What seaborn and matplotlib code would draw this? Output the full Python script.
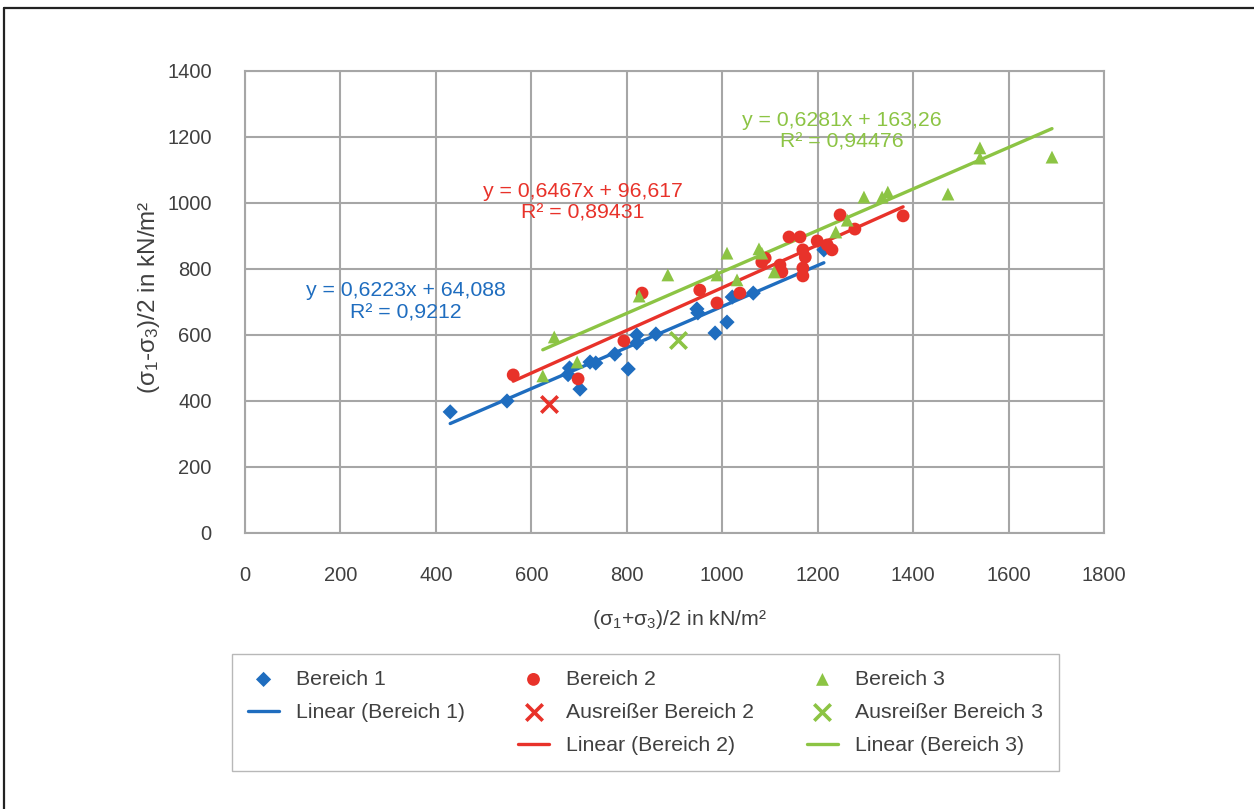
import numpy as np
import pandas as pd
import matplotlib
matplotlib.use("Agg")
import matplotlib.pyplot as plt
from matplotlib.lines import Line2D
import seaborn as sns

# ---------------------------------------------------------------------------
# Daten
# ---------------------------------------------------------------------------

b1_x = [430, 549, 677, 680, 702, 723, 735, 775, 803, 821, 821, 861, 947, 949, 985, 1010, 1021, 1065, 1213]
b1_y = [367, 400, 480, 500, 436, 518, 515, 542, 497, 576, 600, 603, 679, 667, 606, 639, 715, 727, 858]

b2_x = [562, 698, 794, 832, 953, 989, 1037, 1083, 1090, 1121, 1125, 1140, 1163, 1169, 1174, 1169, 1169,
        1199, 1220, 1230, 1247, 1278, 1379]
b2_y = [479, 467, 582, 727, 736, 697, 727, 821, 833, 812, 791, 897, 897, 858, 836, 803, 779,
        885, 873, 858, 964, 921, 961]

b3_x = [624, 648, 696, 826, 886, 989, 1010, 1031, 1077, 1083, 1109, 1238, 1262, 1297, 1335, 1347,
        1473, 1540, 1540, 1691]
b3_y = [476, 594, 518, 718, 782, 782, 848, 767, 861, 848, 791, 912, 948, 1018, 1018, 1033,
        1027, 1167, 1136, 1139]

ausreisser2_x = [637]
ausreisser2_y = [391]
ausreisser3_x = [907]
ausreisser3_y = [585]

# Trendlinien (Steigung, Achsenabschnitt, R²) wie im Diagramm angegeben
trend1 = (0.6223, 64.088, 0.9212)
trend2 = (0.6467, 96.617, 0.89431)
trend3 = (0.6281, 163.26, 0.94476)

x_ticks = list(range(0, 2000, 200))
y_ticks = list(range(0, 1600, 200))

BLAU = "#1f6dbf"
ROT = "#e8322a"
GRUEN = "#8cc444"
GRAU_TEXT = "#404040"


def trendlinie(xwerte, koeff):
    xs = np.array([min(xwerte), max(xwerte)], dtype=float)
    return pd.DataFrame({"x": xs, "y": koeff[0] * xs + koeff[1]})


def gleichung(koeff):
    a = f"{koeff[0]:.4f}".replace(".", ",")
    b = f"{koeff[1]:g}".replace(".", ",")
    r2 = f"{koeff[2]:g}".replace(".", ",")
    return f"y = {a}x + {b}\nR² = {r2}"


sns.set_style("white")
plt.rcParams["font.family"] = ["Liberation Sans", "DejaVu Sans"]
plt.rcParams["mathtext.fontset"] = "custom"
plt.rcParams["mathtext.rm"] = "Liberation Sans"

fig = plt.figure(figsize=(12.54, 8.09), dpi=100)
ax = fig.add_axes([245 / 1254, 1 - 533 / 809, 859 / 1254, 462 / 809])

# Trendlinien
sns.lineplot(data=trendlinie(b1_x, trend1), x="x", y="y", color=BLAU, lw=2.4, ax=ax,
             label="Linear (Bereich 1)", zorder=2)
sns.lineplot(data=trendlinie(b2_x, trend2), x="x", y="y", color=ROT, lw=2.4, ax=ax,
             label="Linear (Bereich 2)", zorder=2)
sns.lineplot(data=trendlinie(b3_x, trend3), x="x", y="y", color=GRUEN, lw=2.4, ax=ax,
             label="Linear (Bereich 3)", zorder=2)

# Messpunkte
sns.scatterplot(x=b1_x, y=b1_y, marker="D", s=60, color=BLAU, edgecolor="none", ax=ax,
                label="Bereich 1", zorder=3)
sns.scatterplot(x=b2_x, y=b2_y, marker="o", s=85, color=ROT, edgecolor="none", ax=ax,
                label="Bereich 2", zorder=3)
sns.scatterplot(x=b3_x, y=b3_y, marker="^", s=85, color=GRUEN, edgecolor="none", ax=ax,
                label="Bereich 3", zorder=3)
sns.scatterplot(x=ausreisser2_x, y=ausreisser2_y, marker="x", s=140, color=ROT, linewidth=2.6,
                ax=ax, label="Ausreißer Bereich 2", zorder=3)
sns.scatterplot(x=ausreisser3_x, y=ausreisser3_y, marker="x", s=140, color=GRUEN, linewidth=2.6,
                ax=ax, label="Ausreißer Bereich 3", zorder=3)

# Gleichungen
ax.text(337, 700, gleichung(trend1), color=BLAU, fontsize=15.3, ha="center", va="center",
        multialignment="center")
ax.text(708, 1003, gleichung(trend2), color=ROT, fontsize=15.3, ha="center", va="center",
        multialignment="center")
ax.text(1251, 1218, gleichung(trend3), color=GRUEN, fontsize=15.3, ha="center", va="center",
        multialignment="center")

# Achsen
ax.set_xlim(0, 1800)
ax.set_ylim(0, 1400)
ax.set_xticks(x_ticks)
ax.set_yticks(y_ticks)
ax.grid(True, color="#a6a6a6", lw=1.5)
ax.set_axisbelow(True)
for sp in ax.spines.values():
    sp.set_color("#a6a6a6")
    sp.set_linewidth(1.5)
ax.tick_params(axis="both", length=0, labelsize=14.5, labelcolor=GRAU_TEXT)
ax.tick_params(axis="y", pad=24)
ax.tick_params(axis="x", pad=24)

ax.set_xlabel(r"(σ$\mathregular{_1}$+σ$\mathregular{_3}$)/2 in kN/m²", fontsize=15.3, color=GRAU_TEXT)
ax.set_ylabel(r"(σ$\mathregular{_1}$-σ$\mathregular{_3}$)/2 in kN/m²", fontsize=17.5, color=GRAU_TEXT)
ax.xaxis.set_label_coords(0.506, -0.162)
ax.yaxis.set_label_coords(-0.097, 0.51)

# Legende (3 Spalten, spaltenweise gefüllt)
handles, labels = ax.get_legend_handles_labels()
nach_name = dict(zip(labels, handles))
leer = Line2D([], [], linestyle="none", marker=None)
reihenfolge = ["Bereich 1", "Linear (Bereich 1)", None,
               "Bereich 2", "Ausreißer Bereich 2", "Linear (Bereich 2)",
               "Bereich 3", "Ausreißer Bereich 3", "Linear (Bereich 3)"]
leg_h = [nach_name[n] if n else leer for n in reihenfolge]
leg_l = [n if n else "" for n in reihenfolge]
ax.legend(leg_h, leg_l, ncol=3, loc="center",
          bbox_to_anchor=((235 + 1056) / 2 / 1254, 1 - 712.5 / 809),
          bbox_transform=fig.transFigure, frameon=True, fancybox=False,
          edgecolor="#a6a6a6", fontsize=15.3, labelcolor=GRAU_TEXT,
          handlelength=1.45, handletextpad=0.8, labelspacing=0.66, borderpad=0.75,
          columnspacing=2.5)

# Rahmen der Abbildung (oben und links)
fig.add_artist(Line2D([4 / 1254, 4 / 1254], [0, 1 - 8 / 809], transform=fig.transFigure,
                      color="#222222", lw=1.6))
fig.add_artist(Line2D([4 / 1254, 1], [1 - 8 / 809, 1 - 8 / 809], transform=fig.transFigure,
                      color="#222222", lw=1.6))

fig.savefig("out.png", dpi=100)
plt.close(fig)
